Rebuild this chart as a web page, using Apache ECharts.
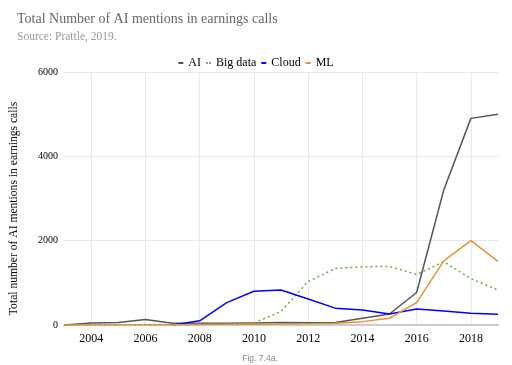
<!DOCTYPE html>
<html><head><meta charset="utf-8">
<script src="https://cdn.jsdelivr.net/npm/echarts@6/dist/echarts.min.js"></script>
<style>html,body{margin:0;padding:0;background:#fff}#c{width:512px;height:365px}</style>
</head><body><div id="c"></div>
<script>
const years = ['2003','2004','2005','2006','2007','2008','2009','2010','2011','2012','2013','2014','2015','2016','2017','2018','2019'];
const aiData      = [0, 50, 60, 130, 40, 40, 40, 50, 60, 55, 60, 160, 260, 770, 3200, 4900, 5000];
const bigData     = [0, 5, 5, 10, 10, 15, 20, 50, 320, 1030, 1340, 1380, 1390, 1200, 1500, 1100, 830];
const cloudData   = [null, null, null, null, 0, 100, 530, 800, 830, 615, 400, 355, 260, 380, 330, 280, 255];
const mlData      = [0, 0, 0, 0, 5, 10, 15, 20, 25, 30, 40, 80, 160, 530, 1520, 2000, 1510];

const chart = echarts.init(document.getElementById('c'));
const even = (i, v) => parseInt(v, 10) % 2 === 0;
const serif = 'Liberation Serif';
chart.setOption({
  animation: false,
  title: [
    {text: 'Total Number of AI mentions in earnings calls', left: 12, top: 7,
     textStyle: {fontFamily: serif, fontSize: 14, fontWeight: 'normal', color: '#666'},
     subtext: 'Source: Prattle, 2019.', itemGap: 5,
     subtextStyle: {fontFamily: serif, fontSize: 11.5, color: '#999'}},
    {text: 'Fig. 7.4a.', left: 255, top: 349, textAlign: 'center',
     textStyle: {fontFamily: 'Liberation Sans', fontSize: 8.5, fontWeight: 'normal', color: '#888'}}
  ],
  legend: {
    top: 52, left: 'center', itemWidth: 5, itemHeight: 2, itemGap: 5,
    textStyle: {fontFamily: serif, fontSize: 12, color: '#000'},
    data: [
      {name: 'AI', icon: 'rect'},
      {name: 'Big data', icon: 'path://M0,0h2v2h-2zM3.5,0h2v2h-2z'},
      {name: 'Cloud', icon: 'rect'},
      {name: 'ML', icon: 'rect'}
    ]
  },
  grid: {left: 64, right: 14, top: 72, bottom: 40},
  xAxis: {
    type: 'category', data: years, boundaryGap: false,
    axisLine: {lineStyle: {color: '#ccc', width: 2}},
    axisTick: {show: false},
    axisLabel: {interval: even, fontFamily: serif, fontSize: 12, color: '#000', margin: 8},
    splitLine: {show: true, interval: even, lineStyle: {color: '#e8e8e8'}}
  },
  yAxis: {
    type: 'value', min: 0, max: 6000, interval: 2000,
    name: 'Total number of AI mentions in earnings calls', nameLocation: 'middle', nameGap: 44,
    nameTextStyle: {fontFamily: serif, fontSize: 11.6, color: '#000', padding: [0, 20, 0, 0]},
    axisLine: {show: false}, axisTick: {show: false},
    axisLabel: {fontFamily: serif, fontSize: 10, color: '#000', margin: 6, formatter: v => String(v)},
    splitLine: {lineStyle: {color: '#e8e8e8'}}
  },
  series: [
    {name: 'AI', type: 'line', data: aiData, showSymbol: false, color: '#555',
     lineStyle: {width: 1.5, color: '#555'}},
    {name: 'Big data', type: 'line', data: bigData, showSymbol: false, color: '#6aa84f',
     lineStyle: {width: 1.5, color: '#6aa84f', type: [2, 3]}},
    {name: 'Cloud', type: 'line', data: cloudData, showSymbol: false, color: '#0000ff',
     lineStyle: {width: 1.5, color: '#0000ff'}},
    {name: 'ML', type: 'line', data: mlData, showSymbol: false, color: '#e69138',
     lineStyle: {width: 1.5, color: '#e69138'}}
  ]
});
</script></body></html>
